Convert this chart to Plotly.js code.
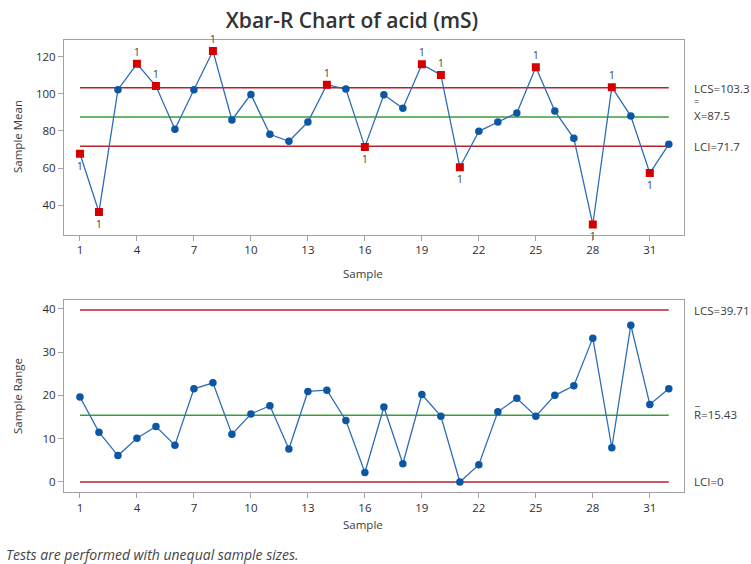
<!DOCTYPE html>
<html>
<head>
<meta charset="utf-8">
<script src="https://cdn.plot.ly/plotly-3.0.1.min.js"></script>
<style>html,body{margin:0;padding:0;background:#fff;}#chart{width:751px;height:564px;}</style>
</head>
<body>
<div id="chart"></div>
<script>
// ---- data ----
var samples = [1,2,3,4,5,6,7,8,9,10,11,12,13,14,15,16,17,18,19,20,21,22,23,24,25,26,27,28,29,30,31,32];
var sampleMeans = [67.7,36.3,102.2,116.2,104.2,80.9,102.2,123.1,85.9,99.7,78.2,74.4,84.8,104.9,102.6,71.4,99.5,92.2,115.9,110.2,60.4,79.8,84.8,89.7,114.3,90.7,76.0,29.6,103.6,88.0,57.3,72.8];
var sampleRanges = [19.6,11.5,6.1,10.1,12.8,8.5,21.5,22.9,11.0,15.7,17.6,7.6,20.9,21.2,14.2,2.2,17.3,4.2,20.2,15.2,0.0,4.0,16.2,19.3,15.2,20.0,22.2,33.2,7.9,36.2,17.9,21.5];
var failedAbove = [4,5,8,14,19,20,25,29];
var failedBelow = [1,2,16,21,28,31];
var xbarLimits = {ucl:103.3, center:87.5, lcl:71.7};
var rLimits = {ucl:39.71, center:15.43, lcl:0};
var xTicks = [1,4,7,10,13,16,19,22,25,28,31];
var meanTicks = [40,60,80,100,120];
var rangeTicks = [0,10,20,30,40];
var labels = {
  title: 'Xbar-R Chart of acid (mS)',
  meanAxis: 'Sample Mean', rangeAxis: 'Sample Range', xAxis: 'Sample',
  ucl1: 'LCS=103.3', cl1: 'X=87.5', lcl1: 'LCI=71.7',
  ucl2: 'LCS=39.71', cl2: 'R=15.43', lcl2: 'LCI=0',
  testMark: '1',
  note: 'Tests are performed with unequal sample sizes.'
};

// ---- styles ----
var FONT = 'Open Sans, Noto Sans, sans-serif';
var BLUE = '#0b56a5', LINEBLUE = '#2e6db5', RED = '#d40000', LRED = '#b8232a', GREEN = '#3c9b3c', GRAY = '#a3a3a3', TXT = '#3a3a3a';

function failed(i){ return failedAbove.indexOf(i)>=0 || failedBelow.indexOf(i)>=0; }
function pick(arr, xs){ return xs.map(function(s){ return arr[samples.indexOf(s)]; }); }

var okX = samples.filter(function(s){return !failed(s);});
var badX = samples.filter(function(s){return failed(s);});

function limitLine(val, color, xa, ya){
  return {x:[samples[0], samples[samples.length-1]], y:[val,val], mode:'lines', xaxis:xa, yaxis:ya,
          line:{color:color, width:1.5}, hoverinfo:'skip', showlegend:false};
}

var traces = [
  limitLine(xbarLimits.ucl, LRED, 'x', 'y'),
  limitLine(xbarLimits.center, GREEN, 'x', 'y'),
  limitLine(xbarLimits.lcl, LRED, 'x', 'y'),
  {x:samples, y:sampleMeans, mode:'lines', line:{color:LINEBLUE, width:1.3}, xaxis:'x', yaxis:'y', showlegend:false},
  {x:okX, y:pick(sampleMeans, okX), mode:'markers', marker:{color:BLUE, size:7.5, symbol:'circle'}, xaxis:'x', yaxis:'y', showlegend:false},
  {x:badX, y:pick(sampleMeans, badX), mode:'markers', marker:{color:RED, size:8, symbol:'square'}, xaxis:'x', yaxis:'y', showlegend:false},

  limitLine(rLimits.ucl, LRED, 'x2', 'y2'),
  limitLine(rLimits.center, GREEN, 'x2', 'y2'),
  limitLine(rLimits.lcl, LRED, 'x2', 'y2'),
  {x:samples, y:sampleRanges, mode:'lines+markers', line:{color:LINEBLUE, width:1.3},
   marker:{color:BLUE, size:7.5, symbol:'circle'}, cliponaxis:false, xaxis:'x2', yaxis:'y2', showlegend:false}
];

function xax(domain, anchor){
  return {domain:domain, anchor:anchor, range:[0.16, 32.8], tickvals:xTicks, ticks:'outside', ticklen:5, tickcolor:GRAY,
          showline:true, mirror:true, linecolor:GRAY, linewidth:1, showgrid:false, zeroline:false,
          tickfont:{family:FONT, size:11.5, color:'#2e2e2e'}, fixedrange:true};
}
function yax(domain, anchor, range, ticks){
  return {domain:domain, anchor:anchor, range:range, tickvals:ticks, ticks:'outside', ticklen:5, tickcolor:GRAY,
          showline:true, mirror:true, linecolor:GRAY, linewidth:1, showgrid:false, zeroline:false,
          tickfont:{family:FONT, size:11.5, color:'#2e2e2e'}, fixedrange:true};
}

var W = 751, H = 564;
function px(x){ return x/W; }
function py(y){ return 1 - y/H; }

function ann(text, x, y, opts){
  var a = {text:text, x:x, y:y, xref:'paper', yref:'paper', showarrow:false, xanchor:'left', yanchor:'middle',
           font:{family:FONT, size:11.5, color:TXT}};
  for (var k in (opts||{})) a[k] = opts[k];
  return a;
}

var annotations = [
  ann(labels.xAxis, px(363), py(273), {xanchor:'center'}),
  ann(labels.xAxis, px(363), py(524), {xanchor:'center'}),
  ann(labels.meanAxis, px(17), py(137), {xanchor:'center', textangle:-90}),
  ann(labels.rangeAxis, px(17), py(396), {xanchor:'center', textangle:-90}),
  ann(labels.ucl1, px(692), py(88)),
  ann('=', px(692), py(101), {font:{family:FONT, size:9, color:TXT}, height:7}),
  ann(labels.cl1, px(692), py(116)),
  ann(labels.lcl1, px(692), py(146)),
  ann(labels.ucl2, px(692), py(310)),
  ann('_', px(692), py(400)),
  ann(labels.cl2, px(692), py(414)),
  ann(labels.lcl2, px(692), py(481)),
  ann(labels.note, px(4), py(554), {font:{family:FONT, size:14, color:'#444', style:'italic'}})
];
// test-failure marks "1" next to out-of-control points
failedAbove.forEach(function(s){
  annotations.push({text:labels.testMark, x:s, y:sampleMeans[samples.indexOf(s)], xref:'x', yref:'y', showarrow:false,
    yshift:12, font:{family:FONT, size:10, color:TXT}});
});
failedBelow.forEach(function(s){
  annotations.push({text:labels.testMark, x:s, y:sampleMeans[samples.indexOf(s)], xref:'x', yref:'y', showarrow:false,
    yshift:-12, font:{family:FONT, size:10, color:TXT}});
});

var layout = {
  width:W, height:H, margin:{l:0, r:0, t:0, b:0}, paper_bgcolor:'#fff', plot_bgcolor:'#fff', showlegend:false,
  title:{text:labels.title, x:px(352), xanchor:'center', y:py(21), yanchor:'middle',
         font:{family:FONT, size:21, color:'#333', weight:600}},
  xaxis: xax([px(64), px(684)], 'y'),
  yaxis: yax([py(234.5), py(40)], 'x', [24.2, 129], meanTicks),
  xaxis2: xax([px(64), px(684)], 'y2'),
  yaxis2: yax([py(491.7), py(300)], 'x2', [-2.24, 42.0], rangeTicks),
  annotations: annotations
};

Plotly.newPlot('chart', traces, layout, {staticPlot:true, displayModeBar:false});
</script>
</body>
</html>
